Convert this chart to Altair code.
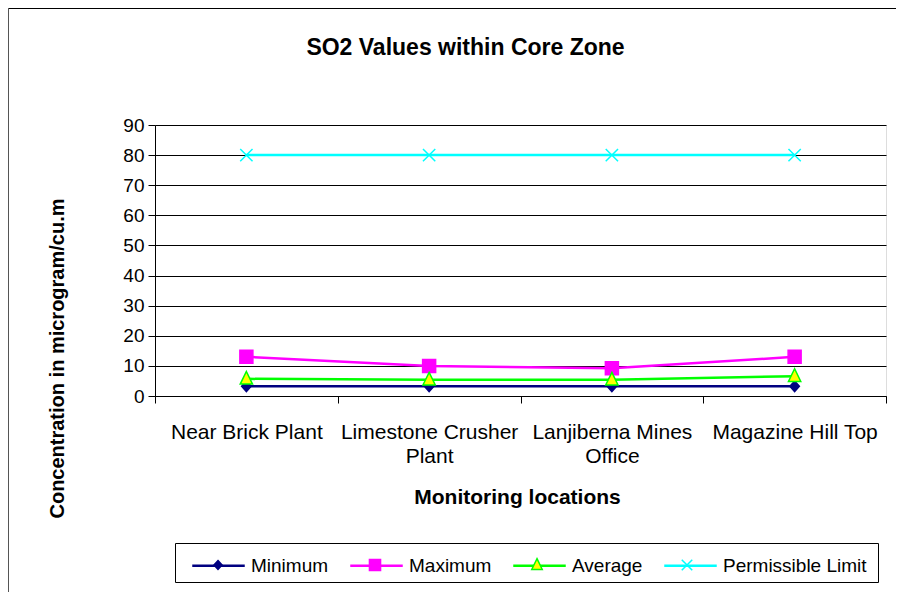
import altair as alt
import pandas as pd

locations = ["Near Brick Plant", "Limestone Crusher|Plant", "Lanjiberna Mines|Office", "Magazine Hill Top"]
series_names = ["Minimum", "Maximum", "Average", "Permissible  Limit"]
minimum = [3.2, 3.2, 3.2, 3.2]
maximum = [13.0, 10.0, 9.2, 13.0]
average = [5.7, 5.4, 5.4, 6.6]
permissible = [80, 80, 80, 80]

stroke_colors = ["#000080", "#FF00FF", "#00FF00", "#00FFFF"]
fill_colors = ["#000080", "#FF00FF", "#FFFF00", "transparent"]
shapes = [
    "M0,-0.3L0.27,0L0,0.3L-0.27,0Z",
    "M-0.37,-0.37L0.37,-0.37L0.37,0.37L-0.37,0.37Z",
    "M0,-0.42L0.35,0.3L-0.35,0.3Z",
    "M-0.35,-0.35L0.35,0.35M-0.35,0.35L0.35,-0.35",
]

ZW = "\u200b"
marker_names = [n + ZW for n in series_names]

rows = []
for name, mname, vals in zip(series_names, marker_names, [minimum, maximum, average, permissible]):
    for loc, v in zip(locations, vals):
        rows.append({"Location": loc, "Series": name, "Marker": mname, "Value": v})
df = pd.DataFrame(rows)

FONT = "Liberation Sans"

x_enc = alt.X(
    "Location:N",
    sort=locations,
    scale=alt.Scale(type="band", paddingInner=0, paddingOuter=0),
    bandPosition=0.5,
    axis=alt.Axis(
        title="Monitoring locations",
        titleFont=FONT, titleFontSize=21, titleFontWeight="bold", titleColor="black",
        titleX=362, titleY=101, titleAlign="center", titleBaseline="middle",
        labelExpr="split(datum.label, '|')",
        labelFont=FONT, labelFontSize=21, labelColor="black", labelAngle=0,
        labelPadding=18, labelLineHeight=24,
        tickBand="extent", tickSize=7, tickColor="black", domainColor="black",
        grid=False,
    ),
)
y_enc = alt.Y(
    "Value:Q",
    scale=alt.Scale(domain=[0, 90], nice=False),
    axis=alt.Axis(
        values=list(range(0, 91, 10)),
        title="Concentration in microgram/cu.m",
        titleFont=FONT, titleFontSize=20, titleFontWeight="bold", titleColor="black",
        titleX=-98, titleY=233, titleAngle=-90, titleAlign="center", titleBaseline="middle",
        labelFont=FONT, labelFontSize=19, labelColor="black", labelPadding=4,
        tickSize=7, tickColor="black", domainColor="black",
        grid=True, gridColor="black", gridWidth=1.2,
    ),
)

common_legend = dict(
    title=None, orient="none", legendX=20, legendY=418, direction="horizontal",
    columns=4, columnPadding=10, labelFont=FONT, labelFontSize=19, labelColor="black",
    padding=6, symbolSize=900, symbolOffset=21, labelOffset=16, labelLimit=300,
)
line_legend = alt.Legend(symbolType="M-1.75,0L1.75,0", symbolStrokeWidth=2.5,
                         strokeColor="black", **common_legend)
marker_legend = alt.Legend(symbolStrokeWidth=1.5, labelOpacity=0,
                           labelExpr="replace(datum.label, '\u200b', '')", **common_legend)

lines = alt.Chart(df).mark_line(strokeWidth=2.5).encode(
    x=x_enc, y=y_enc,
    color=alt.Color("Series:N", scale=alt.Scale(domain=series_names, range=stroke_colors),
                    sort=series_names, legend=line_legend),
)
points = alt.Chart(df).mark_point(filled=False, strokeWidth=1.5, opacity=1).encode(
    x=x_enc, y=y_enc,
    size=alt.value(1235),
    stroke=alt.Stroke("Marker:N", scale=alt.Scale(domain=marker_names, range=stroke_colors),
                      sort=marker_names, legend=marker_legend),
    fill=alt.Fill("Marker:N", scale=alt.Scale(domain=marker_names, range=fill_colors),
                  sort=marker_names, legend=marker_legend),
    shape=alt.Shape("Marker:N", scale=alt.Scale(domain=marker_names, range=shapes),
                    sort=marker_names, legend=marker_legend),
)

frame_top = alt.Chart(df).mark_rule(color="black", strokeWidth=2).encode(
    x=alt.value(-147), x2=alt.value(745), y=alt.value(-117)
)
frame_left = alt.Chart(df).mark_rule(color="#555555", strokeWidth=2).encode(
    x=alt.value(-147), y=alt.value(-117), y2=alt.value(475)
)

chart = alt.layer(frame_top, frame_left, lines, points).properties(
    width=731, height=271,
    autosize=alt.AutoSizeParams(type="none"),
    padding={"left": 147, "top": 117, "right": 10, "bottom": 196},
    title=alt.TitleParams(
        "SO2 Values within Core Zone", font=FONT, fontSize=23, fontWeight="bold",
        color="black", anchor="middle", dx=-55, offset=-53,
    ),
).configure_view(stroke=None).configure(background="white")

chart.save("out.html", embed_options={"renderer": "svg", "actions": False})
